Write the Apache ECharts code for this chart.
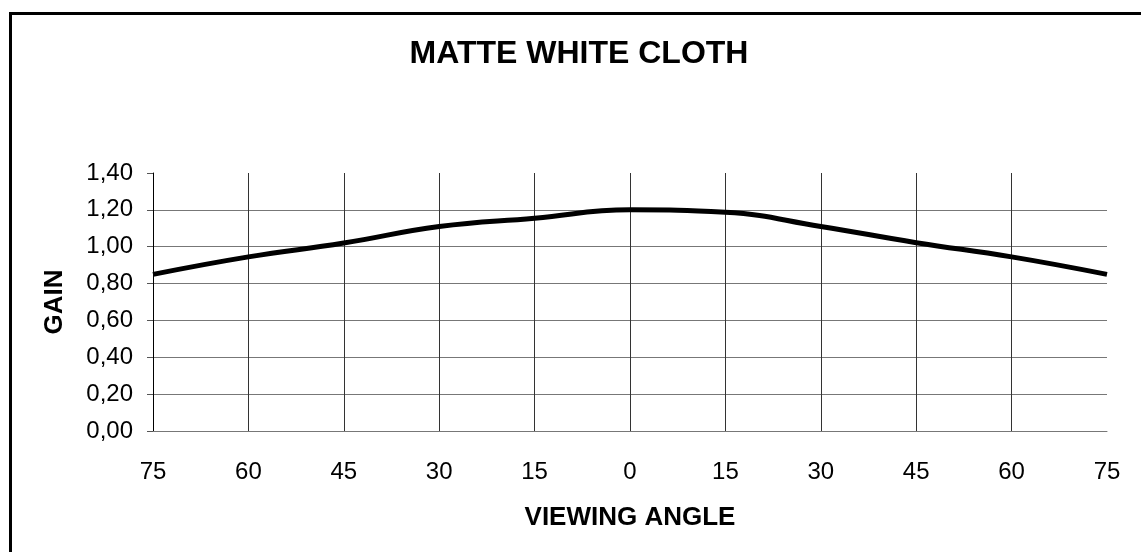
<!DOCTYPE html>
<html>
<head>
<meta charset="utf-8">
<script src="https://cdn.jsdelivr.net/npm/echarts@6/dist/echarts.min.js"></script>
<style>
html,body{margin:0;padding:0;background:#fff;}
#chart{width:1141px;height:552px;}
</style>
</head>
<body>
<div id="chart"></div>
<script>
const categories = ['75','60','45','30','15','0','15','30','45','60','75'];
const gainValues = [0.85, 0.945, 1.02, 1.11, 1.155, 1.20, 1.187, 1.11, 1.022, 0.945, 0.85];
const yTicks = { min: 0, max: 1.4, interval: 0.2 };

const FONT = 'Liberation Sans, Arial, sans-serif';
const chart = echarts.init(document.getElementById('chart'), null, { renderer: 'canvas' });
chart.setOption({
  backgroundColor: '#fff',
  animation: false,
  textStyle: { fontFamily: FONT, color: '#000' },
  title: {
    text: 'MATTE WHITE CLOTH',
    left: 574,
    textAlign: 'center',
    top: 33,
    textStyle: { fontSize: 32, fontWeight: 'bold', color: '#000', fontFamily: FONT }
  },
  graphic: [{
    type: 'rect',
    shape: { x: 10.5, y: 13.5, width: 1300, height: 700 },
    style: { fill: 'none', stroke: '#000', lineWidth: 3 },
    silent: true
  }],
  grid: { left: 153, right: 34, top: 173, bottom: 121, containLabel: false },
  xAxis: {
    type: 'category',
    data: categories,
    boundaryGap: false,
    name: 'VIEWING ANGLE',
    nameLocation: 'middle',
    nameGap: 74,
    nameTextStyle: { fontSize: 26, fontWeight: 'bold', color: '#000', fontFamily: FONT },
    axisLine: { show: true, lineStyle: { color: '#777', width: 1 } },
    axisTick: { show: false },
    axisLabel: { fontSize: 24, color: '#000', margin: 29, fontFamily: FONT },
    splitLine: { show: true, showMinLine: false, showMaxLine: false, lineStyle: { color: '#333', width: 1 } }
  },
  yAxis: {
    type: 'value',
    min: yTicks.min,
    max: yTicks.max,
    interval: yTicks.interval,
    name: 'GAIN',
    nameLocation: 'middle',
    nameGap: 85,
    nameTextStyle: { fontSize: 26, fontWeight: 'bold', color: '#000', fontFamily: FONT },
    axisLine: { show: true, lineStyle: { color: '#000', width: 1 } },
    axisTick: { show: true, length: 6, lineStyle: { color: '#555' } },
    axisLabel: {
      fontSize: 24, color: '#000', margin: 20, fontFamily: FONT,
      formatter: v => v.toFixed(2).replace('.', ',')
    },
    splitLine: { show: true, showMinLine: false, showMaxLine: false, lineStyle: { color: '#777', width: 1 } }
  },
  series: [{
    type: 'line',
    data: gainValues,
    smooth: 0.45,
    showSymbol: false,
    lineStyle: { color: '#000', width: 5 }
  }]
});
</script>
</body>
</html>
